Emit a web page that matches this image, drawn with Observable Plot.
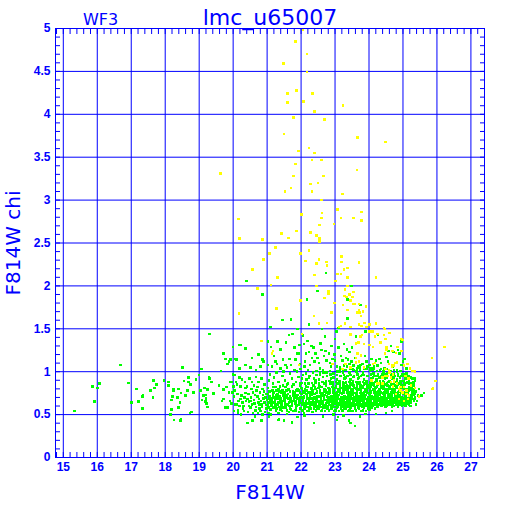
<!DOCTYPE html>
<html><head><meta charset="utf-8">
<script src="https://cdn.jsdelivr.net/npm/d3@7"></script>
<script src="https://cdn.jsdelivr.net/npm/@observablehq/plot@0.6"></script>
<style>body{margin:0;background:#fff}</style>
</head><body><div id="chart"></div>
<script>
const title = "lmc_u65007";
const chip = "WF3";
const xLabel = "F814W";
const yLabel = "F814W chi";
const xTicks = [15,16,17,18,19,20,21,22,23,24,25,26,27];
const yTicks = [0,0.5,1,1.5,2,2.5,3,3.5,4,4.5,5];
const xMinor = d3.range(14.8, 27.41, 0.2);
const yMinor = d3.range(0, 5.001, 0.1);

// green points (good fits)
const green = [
[15.33,.54],[15.86,.83],[15.92,.65],[16.01,.81],[16.07,.86],[16.69,1.08],[16.92,.87],[17.01,.64],[17.15,.80],[17.21,.65],[17.33,.71],[17.35,.72],[17.33,.57],[17.57,.78],[17.66,.90],[17.69,.81],[17.74,.85],[17.64,.70],[17.97,.90],[18.10,.88],[18.10,.84],[18.24,.80],[18.24,.78],[18.39,.80],[18.21,.71],[18.36,.70],[18.18,.67],[18.44,.64],[18.39,.58],[18.18,.56],[18.16,.50],[18.26,.44],[18.47,.45],[18.45,.43],[18.51,1.05],[18.55,.89],[18.69,.93],[18.69,.88],[18.75,.85],[18.60,.72],[18.46,.75],[18.83,.76],[18.66,.78],[18.73,.52],[18.77,.53],[18.90,.91],[19.00,.96],[19.07,1.03],[19.30,.92],[19.36,.88],[19.04,.78],[19.16,.81],[19.24,.79],[19.13,.72],[19.19,.73],[19.09,.67],[19.19,.65],[19.21,.63],[19.24,.59],[19.42,.74],[19.30,1.44],
[19.72,1.21],[19.78,1.15],[19.88,1.12],[19.92,1.14],[19.83,1.09],[19.65,1.01],[19.29,.93],[19.40,.75],[19.58,.84],[19.71,.79],[19.80,.82],[19.90,.88],[20.00,.97],[20.06,.96],[19.98,.76],[20.01,.83],[19.67,.66],[19.72,.68],[19.84,.58],[19.95,.63],[20.02,.54],[20.18,.60],[20.14,.55],[20.22,.68],[19.20,.69],[19.44,.75],[19.78,.58],[19.88,.76],[19.95,.88],[19.90,.66],
[20.03,.71],[20.06,.62],[20.08,.88],[20.04,.78],
[20.13,.74],[20.16,.66],[20.11,.85],[20.18,.93],[20.15,.52],[20.12,.62],
[20.24,.72],[20.27,.64],[20.21,.83],[20.29,.57],[20.26,.91],[20.23,.50],
[20.33,.70],[20.36,.81],[20.31,.60],[20.38,.66],[20.35,.88],[20.32,.54],[20.37,.75],
[20.42,.68],[20.45,.74],[20.47,.60],[20.41,.83],[20.48,.92],[20.44,.53],[20.46,.65],
[20.52,.70],[20.55,.62],[20.58,.76],[20.51,.58],[20.56,.88],[20.53,.66],[20.59,.52],[20.54,.80],
[20.62,.67],[20.65,.73],[20.68,.59],[20.61,.84],[20.66,.55],[20.69,.78],[20.63,.63],[20.67,.94],[20.64,.48],
[20.72,.71],[20.75,.64],[20.78,.57],[20.71,.82],[20.76,.68],[20.73,.52],[20.79,.76],[20.74,.88],[20.77,.61],
[20.82,.66],[20.85,.59],[20.88,.73],[20.81,.54],[20.86,.80],[20.83,.62],[20.89,.69],[20.84,.92],[20.87,.50],
[20.92,.64],[20.95,.70],[20.98,.57],[20.91,.77],[20.96,.61],[20.93,.85],[20.99,.67],[20.94,.53],[20.97,.74],
[21.02,.62],[21.05,.68],[21.08,.56],[21.01,.74],[21.06,.59],[21.03,.81],[21.09,.65],[21.04,.52],[21.07,.71],[21.05,.90],
[21.12,.60],[21.15,.66],[21.18,.72],[21.11,.56],[21.16,.78],[21.13,.63],[21.19,.58],[21.14,.69],[21.17,.86],[21.12,.50],
[21.22,.64],[21.25,.58],[21.28,.70],[21.21,.76],[21.26,.55],[21.23,.67],[21.29,.61],[21.24,.82],[21.27,.73],[21.21,.93],
[21.32,.62],[21.35,.68],[21.38,.56],[21.31,.74],[21.36,.59],[21.33,.80],[21.39,.65],[21.34,.52],[21.37,.71],[21.33,.88],
[21.42,.60],[21.45,.66],[21.48,.72],[21.41,.57],[21.46,.78],[21.43,.63],[21.49,.69],[21.44,.54],[21.47,.84],[21.42,.75],[21.46,.95],
[21.52,.64],[21.55,.58],[21.58,.70],[21.51,.76],[21.56,.61],[21.53,.67],[21.59,.55],[21.54,.82],[21.57,.73],[21.52,.90],[21.58,.51],
[21.62,.62],[21.65,.68],[21.68,.57],[21.61,.74],[21.66,.60],[21.63,.79],[21.69,.65],[21.64,.53],[21.67,.71],[21.62,.86],
[21.72,.60],[21.75,.66],[21.78,.72],[21.71,.56],[21.76,.77],[21.73,.63],[21.79,.69],[21.74,.83],[21.77,.54],[21.73,.92],
[21.82,.63],[21.85,.58],[21.88,.69],[21.81,.75],[21.86,.61],[21.83,.66],[21.89,.80],[21.84,.55],[21.87,.72],[21.85,.88],
[21.92,.61],[21.95,.67],[21.98,.57],[21.91,.73],[21.96,.64],[21.93,.78],[21.99,.70],[21.94,.53],[21.97,.84],[21.92,.94],
[22.02,.62],[22.05,.68],[22.08,.58],[22.01,.74],[22.06,.65],[22.03,.80],[22.09,.71],[22.04,.55],[22.07,.77],[22.02,.87],[22.08,.52],
[22.12,.60],[22.15,.66],[22.18,.72],[22.11,.57],[22.16,.78],[22.13,.63],[22.19,.69],[22.14,.83],[22.17,.54],[22.12,.75],[22.16,.91],
[22.22,.63],[22.25,.58],[22.28,.69],[22.21,.75],[22.26,.61],[22.23,.66],[22.29,.80],[22.24,.55],[22.27,.72],[22.22,.86],[22.28,.64],
[22.32,.61],[22.35,.67],[22.38,.57],[22.31,.73],[22.36,.64],[22.33,.78],[22.39,.70],[22.34,.53],[22.37,.84],[22.33,.76],[22.38,.92],
[22.42,.62],[22.45,.68],[22.48,.58],[22.41,.74],[22.46,.65],[22.43,.80],[22.49,.71],[22.44,.55],[22.47,.77],[22.42,.87],[22.48,.60],
[22.52,.60],[22.55,.66],[22.58,.72],[22.51,.57],[22.56,.78],[22.53,.63],[22.59,.69],[22.54,.83],[22.57,.75],[22.52,.91],[22.58,.54],[22.55,.62],
[22.62,.63],[22.65,.58],[22.68,.69],[22.61,.75],[22.66,.61],[22.63,.66],[22.69,.80],[22.64,.72],[22.67,.86],[22.62,.55],[22.68,.77],[22.65,.94],
[22.72,.61],[22.75,.67],[22.78,.57],[22.71,.73],[22.76,.64],[22.73,.78],[22.79,.70],[22.74,.84],[22.77,.60],[22.73,.89],[22.78,.75],[22.71,.54],
[22.82,.62],[22.85,.68],[22.88,.58],[22.81,.74],[22.86,.65],[22.83,.80],[22.89,.71],[22.84,.77],[22.87,.86],[22.82,.55],[22.88,.92],[22.85,.61],
[22.92,.60],[22.95,.66],[22.98,.72],[22.91,.57],[22.96,.78],[22.93,.63],[22.99,.69],[22.94,.83],[22.97,.75],[22.92,.88],[22.98,.54],[22.95,.80],
[23.02,.63],[23.05,.58],[23.08,.69],[23.01,.75],[23.06,.61],[23.03,.66],[23.09,.80],[23.04,.72],[23.07,.86],[23.02,.55],[23.08,.77],[23.05,.91],[23.03,.83],
[23.12,.61],[23.15,.67],[23.18,.57],[23.11,.73],[23.16,.64],[23.13,.78],[23.19,.70],[23.14,.84],[23.17,.60],[23.13,.89],[23.18,.75],[23.11,.54],[23.16,.81],
[23.22,.62],[23.25,.68],[23.28,.58],[23.21,.74],[23.26,.65],[23.23,.80],[23.29,.71],[23.24,.77],[23.27,.86],[23.22,.55],[23.28,.92],[23.25,.83],[23.21,.67],
[23.32,.60],[23.35,.66],[23.38,.72],[23.31,.57],[23.36,.78],[23.33,.63],[23.39,.69],[23.34,.83],[23.37,.75],[23.32,.88],[23.38,.54],[23.35,.80],[23.31,.93],[23.36,.70],
[23.42,.63],[23.45,.58],[23.48,.69],[23.41,.75],[23.46,.61],[23.43,.66],[23.49,.80],[23.44,.72],[23.47,.86],[23.42,.55],[23.48,.77],[23.45,.91],[23.43,.83],[23.46,.74],
[23.52,.61],[23.55,.67],[23.58,.57],[23.51,.73],[23.56,.64],[23.53,.78],[23.59,.70],[23.54,.84],[23.57,.60],[23.53,.89],[23.58,.75],[23.51,.54],[23.56,.81],[23.54,.94],[23.59,.66],
[23.62,.62],[23.65,.68],[23.68,.58],[23.61,.74],[23.66,.65],[23.63,.80],[23.69,.71],[23.64,.77],[23.67,.86],[23.62,.55],[23.68,.92],[23.65,.83],[23.61,.67],[23.66,.97],[23.63,.72],
[23.72,.60],[23.75,.66],[23.78,.72],[23.71,.57],[23.76,.78],[23.73,.63],[23.79,.69],[23.74,.83],[23.77,.75],[23.72,.88],[23.78,.54],[23.75,.80],[23.71,.93],[23.76,.70],[23.73,.48],
[23.82,.63],[23.85,.58],[23.88,.69],[23.81,.75],[23.86,.61],[23.83,.66],[23.89,.80],[23.84,.72],[23.87,.86],[23.82,.55],[23.88,.77],[23.85,.91],[23.83,.83],[23.86,.74],[23.81,.96],
[23.92,.61],[23.95,.67],[23.98,.57],[23.91,.73],[23.96,.64],[23.93,.78],[23.99,.70],[23.94,.84],[23.97,.60],[23.93,.89],[23.98,.75],[23.91,.54],[23.96,.81],[23.94,.95],[23.99,.66],
[24.02,.62],[24.05,.68],[24.08,.58],[24.01,.74],[24.06,.65],[24.03,.80],[24.09,.71],[24.04,.77],[24.07,.86],[24.02,.56],[24.08,.92],[24.05,.83],[24.01,.67],[24.06,.97],[24.03,.72],
[24.12,.60],[24.15,.66],[24.18,.72],[24.11,.63],[24.16,.78],[24.13,.69],[24.19,.82],[24.14,.75],[24.17,.88],[24.12,.93],[24.18,.57],[24.15,.80],[24.11,.85],[24.16,.70],[24.13,.98],
[24.22,.63],[24.25,.59],[24.28,.69],[24.21,.75],[24.26,.61],[24.23,.66],[24.29,.80],[24.24,.72],[24.27,.86],[24.22,.91],[24.28,.77],[24.25,.95],[24.23,.83],[24.26,.74],[24.21,.68],
[24.32,.61],[24.35,.67],[24.38,.64],[24.31,.73],[24.36,.70],[24.33,.78],[24.39,.84],[24.34,.76],[24.37,.60],[24.33,.89],[24.38,.75],[24.31,.93],[24.36,.81],[24.34,.66],[24.39,.97],
[24.42,.62],[24.45,.68],[24.48,.65],[24.41,.74],[24.46,.71],[24.43,.80],[24.49,.77],[24.44,.86],[24.47,.92],[24.42,.83],[24.48,.59],[24.45,.95],[24.41,.89],[24.46,.74],[24.43,.67],
[24.52,.60],[24.55,.66],[24.58,.72],[24.51,.63],[24.56,.78],[24.53,.69],[24.59,.82],[24.54,.75],[24.57,.88],[24.52,.93],[24.58,.64],[24.55,.80],[24.51,.85],[24.56,.70],[24.53,.98],
[24.62,.62],[24.65,.68],[24.68,.65],[24.61,.74],[24.66,.71],[24.63,.80],[24.69,.77],[24.64,.86],[24.67,.92],[24.62,.83],[24.68,.59],[24.65,.96],[24.61,.89],[24.66,.74],[24.63,.67],
[24.72,.60],[24.75,.66],[24.78,.72],[24.71,.63],[24.76,.78],[24.73,.69],[24.79,.82],[24.74,.75],[24.77,.88],[24.72,.93],[24.78,.64],[24.75,.80],[24.71,.85],[24.76,.70],[24.73,.98],
[24.82,.63],[24.85,.59],[24.88,.69],[24.81,.75],[24.86,.61],[24.83,.66],[24.89,.80],[24.84,.72],[24.87,.86],[24.82,.91],[24.88,.77],[24.85,.95],[24.83,.83],[24.86,.74],[24.81,.68],
[24.92,.61],[24.95,.67],[24.98,.64],[24.91,.73],[24.96,.70],[24.93,.78],[24.99,.84],[24.94,.76],[24.97,.60],[24.93,.89],[24.98,.75],[24.91,.93],[24.96,.81],[24.94,.66],[24.99,.97],
[25.02,.62],[25.05,.68],[25.08,.65],[25.01,.74],[25.06,.71],[25.03,.80],[25.09,.77],[25.04,.86],[25.07,.92],[25.02,.83],[25.08,.60],[25.05,.95],[25.01,.89],[25.06,.74],[25.03,.67],
[25.12,.63],[25.15,.69],[25.18,.72],[25.11,.66],[25.16,.78],[25.13,.75],[25.19,.82],[25.14,.88],[25.17,.61],[25.12,.93],[25.18,.86],[25.15,.80],[25.11,.98],
[25.22,.64],[25.25,.70],[25.28,.76],[25.21,.67],[25.26,.82],[25.23,.73],[25.29,.88],[25.24,.79],[25.27,.92],[25.22,.60],[25.26,.85],
[25.32,.66],[25.35,.74],[25.31,.80],[25.36,.70],[25.33,.86],[25.38,.62],[25.34,.92],
[25.44,.72],[25.47,.80],[25.55,.72],[25.42,.66],[25.62,.75],
[20.42,.40],[20.57,.43],[20.83,.43],[21.05,.48],[21.35,.45],[21.50,.43],[21.74,.41],[21.33,.44],[22.38,.40],[23.05,.44],[23.09,.47],[23.41,.43],[23.46,.40],[23.59,.37],[23.90,.51],[24.20,.51],[22.65,.48],[22.95,.50],[23.25,.49],[24.50,.52],[24.68,.54],[22.10,.49],[21.90,.47],
[20.21,1.31],[20.36,1.27],[20.00,1.29],[20.19,1.31],[20.05,1.15],[20.10,1.14],[20.36,1.08],[20.51,1.05],[20.67,1.02],[20.19,1.04],[20.86,1.14],[20.90,1.12],[21.03,1.08],[21.15,1.06],[21.29,1.09],[21.47,1.14],[21.66,1.15],[21.83,1.14],[21.89,1.21],[21.54,1.08],[21.10,1.52],[21.46,1.60],[21.71,1.61],[21.90,1.50],[21.75,1.44],[21.64,1.43],[21.03,1.35],[21.30,1.35],[21.96,1.31],[21.40,1.26],[21.12,1.29],[20.81,1.06],[21.59,1.05],[21.98,1.03],[21.80,1.02],[21.40,1.04],
[22.23,1.55],[22.06,1.42],[22.19,1.36],[22.70,1.41],[23.10,1.51],[23.04,1.47],[23.61,1.41],[23.90,1.47],[24.27,1.43],[22.08,1.32],[22.37,1.28],[22.57,1.33],[23.26,1.32],[23.35,1.26],[23.42,1.23],[23.10,1.28],[22.82,1.21],[22.43,1.21],[22.23,1.23],[22.15,1.21],[21.94,1.21],[22.48,1.16],[22.68,1.18],[22.75,1.13],[22.92,1.15],[23.00,1.13],[23.22,1.13],[23.32,1.16],[23.42,1.09],[23.61,1.10],[23.81,1.09],[24.02,1.08],[24.21,1.13],[24.36,1.10],[24.51,1.17],[21.97,1.09],[22.10,1.06],[22.27,1.08],[22.55,1.04],[22.88,1.06],[23.15,1.03],[23.55,1.02],[23.72,1.05],[24.10,1.02],[24.45,1.04],[24.70,1.06],[24.95,1.08],[25.10,1.04],[23.36,1.62],[22.62,1.50],[24.64,1.30],[24.85,1.25],[25.05,1.15],
[23.05,1.06],[23.27,1.07],[23.48,1.12],[23.68,1.06],[23.92,1.12],[24.15,1.06],[24.31,1.15],[24.56,1.12],[24.82,1.02],[25.00,1.12],[22.85,1.10],[22.40,1.12],[22.20,1.02],[21.70,1.08],[21.25,1.12],
[22.73,2.15],[20.40,2.06],[23.48,2.00],[22.48,1.94],[20.87,1.90],[22.18,1.84],[23.36,1.84],[23.75,1.78],[24.96,1.35],[24.58,1.24],[24.72,1.23],[24.90,1.21]
];

// further green points in the crowded core of the cluster
const greenCore = [
[21.04,.64],[21.07,.77],[21.02,.58],[21.08,.70],[21.14,.62],[21.17,.75],[21.11,.68],[21.18,.82],[21.24,.62],[21.27,.78],[21.21,.70],[21.28,.57],[21.34,.64],[21.37,.77],[21.31,.69],[21.38,.83],[21.44,.62],[21.47,.76],[21.41,.69],[21.48,.58],[21.54,.62],[21.57,.78],[21.51,.70],[21.58,.85],[21.64,.64],[21.67,.77],[21.61,.69],[21.68,.58],[21.74,.62],[21.77,.76],[21.71,.69],[21.78,.85],[21.84,.64],[21.87,.78],[21.81,.70],[21.88,.60],[21.94,.62],[21.97,.76],[21.91,.69],[21.98,.86],
[22.04,.63],[22.07,.70],[22.01,.81],[22.09,.60],[22.05,.75],[22.03,.92],
[22.14,.62],[22.17,.69],[22.11,.80],[22.19,.59],[22.15,.74],[22.12,.86],
[22.24,.64],[22.27,.71],[22.21,.82],[22.29,.57],[22.25,.76],[22.23,.93],
[22.34,.62],[22.37,.69],[22.31,.81],[22.39,.59],[22.35,.74],[22.32,.87],
[22.44,.63],[22.47,.70],[22.41,.82],[22.49,.57],[22.45,.75],[22.43,.90],[22.46,.96],
[22.54,.65],[22.57,.71],[22.51,.81],[22.59,.59],[22.55,.76],[22.53,.86],[22.56,.97],
[22.64,.64],[22.67,.70],[22.61,.82],[22.69,.58],[22.65,.75],[22.63,.88],[22.66,.99],
[22.74,.63],[22.77,.71],[22.71,.80],[22.79,.59],[22.75,.76],[22.73,.86],[22.76,.95],[22.72,.67],
[22.84,.65],[22.87,.70],[22.81,.81],[22.89,.57],[22.85,.75],[22.83,.89],[22.86,.97],[22.82,.68],
[22.94,.64],[22.97,.71],[22.91,.82],[22.99,.59],[22.95,.76],[22.93,.86],[22.96,.93],[22.92,.68],
[23.04,.65],[23.07,.71],[23.01,.81],[23.09,.59],[23.05,.76],[23.03,.88],[23.06,.96],[23.02,.69],[23.08,.63],
[23.14,.64],[23.17,.70],[23.11,.79],[23.19,.59],[23.15,.75],[23.13,.87],[23.16,.95],[23.12,.68],[23.18,.62],[23.15,.83],[23.13,1.00],
[23.24,.65],[23.27,.71],[23.21,.81],[23.29,.60],[23.25,.76],[23.23,.88],[23.26,.96],[23.22,.69],[23.28,.63],[23.25,.85],[23.23,.99],
[23.34,.64],[23.37,.70],[23.31,.79],[23.39,.59],[23.35,.75],[23.33,.87],[23.36,.95],[23.32,.68],[23.38,.62],[23.35,.84],[23.33,1.02],
[23.44,.65],[23.47,.71],[23.41,.81],[23.49,.60],[23.45,.76],[23.43,.88],[23.46,.96],[23.42,.69],[23.48,.63],[23.45,.85],[23.43,.99],
[23.54,.64],[23.57,.70],[23.51,.79],[23.59,.59],[23.55,.75],[23.53,.87],[23.56,.95],[23.52,.68],[23.58,.62],[23.55,.84],[23.53,1.03],
[23.64,.65],[23.67,.71],[23.61,.81],[23.69,.60],[23.65,.76],[23.63,.88],[23.66,.96],[23.62,.69],[23.68,.63],[23.65,.85],[23.63,1.00],
[23.74,.64],[23.77,.70],[23.71,.79],[23.79,.59],[23.75,.75],[23.73,.87],[23.76,.95],[23.72,.68],[23.78,.62],[23.75,.84],[23.73,1.02],
[23.84,.65],[23.87,.71],[23.81,.81],[23.89,.60],[23.85,.76],[23.83,.88],[23.86,.96],[23.82,.69],[23.88,.63],[23.85,.85],[23.83,.99],
[23.94,.64],[23.97,.70],[23.91,.79],[23.99,.59],[23.95,.75],[23.93,.87],[23.96,.95],[23.92,.68],[23.98,.62],[23.95,.84],[23.93,1.03],
[24.04,.65],[24.07,.71],[24.01,.81],[24.09,.60],[24.05,.76],[24.03,.88],[24.06,.96],[24.02,.69],[24.08,.63],[24.05,.85],[24.03,1.01],
[24.14,.64],[24.17,.70],[24.11,.79],[24.19,.62],[24.15,.75],[24.13,.87],[24.16,.95],[24.12,.68],[24.18,.66],[24.15,.84],[24.13,1.04],
[24.24,.65],[24.27,.71],[24.21,.81],[24.29,.62],[24.25,.76],[24.23,.88],[24.26,.97],[24.22,.69],[24.28,.66],[24.25,.85],[24.23,1.01],
[24.34,.64],[24.37,.70],[24.31,.79],[24.39,.62],[24.35,.75],[24.33,.87],[24.36,.95],[24.32,.68],[24.38,.66],[24.35,.84],[24.33,1.02],
[24.44,.65],[24.47,.71],[24.41,.81],[24.49,.62],[24.45,.76],[24.43,.88],[24.46,.97],[24.42,.69],[24.48,.66],[24.45,.85],[24.43,1.00],
[24.54,.64],[24.57,.70],[24.51,.79],[24.59,.62],[24.55,.75],[24.53,.87],[24.56,.95],[24.52,.68],[24.58,.66],[24.55,.84],[24.53,1.03],
[24.64,.65],[24.67,.71],[24.61,.81],[24.69,.62],[24.65,.76],[24.63,.88],[24.66,.97],[24.62,.69],[24.68,.66],[24.65,.85],[24.63,1.01],
[24.74,.64],[24.77,.70],[24.71,.79],[24.79,.62],[24.75,.75],[24.73,.87],[24.76,.95],[24.72,.68],[24.78,.66],[24.75,.84],[24.73,1.02],
[24.84,.65],[24.87,.71],[24.81,.81],[24.89,.63],[24.85,.76],[24.83,.88],[24.86,.97],[24.82,.69],[24.88,.66],[24.85,.85],[24.83,1.00],
[24.94,.64],[24.97,.70],[24.91,.79],[24.99,.63],[24.95,.75],[24.93,.87],[24.96,.95],[24.92,.68],[24.98,.66],[24.95,.84],[24.93,1.01],
[25.04,.65],[25.07,.71],[25.01,.81],[25.09,.63],[25.05,.76],[25.03,.88],[25.06,.97],[25.02,.69],[25.08,.66],[25.05,.85],
[25.14,.64],[25.17,.70],[25.11,.79],[25.19,.65],[25.15,.75],[25.13,.87],[25.16,.95],[25.12,.68],[25.18,.90],
[25.24,.66],[25.27,.72],[25.21,.81],[25.29,.78],[25.25,.86],[25.23,.93],[25.26,.69],
[25.34,.68],[25.37,.77],[25.31,.84],[25.33,.73],[25.36,.89]
];

// green points along the upper edge of the cluster
const greenUpper = [
[22.05,.96],[22.15,.98],[22.25,.95],[22.35,.99],[22.45,1.01],[22.55,.99],[22.65,1.02],[22.75,.99],[22.85,1.01],[22.95,.98],[23.05,1.00],[23.15,1.05],[23.25,1.02],[23.35,1.06],[23.45,1.03],[23.55,1.07],[23.65,1.04],[23.75,1.08],[23.85,1.03],[23.95,1.06],[24.05,1.04],[24.25,1.07],[24.35,1.03],
[22.12,1.12],[22.32,1.16],[22.52,1.10],[22.72,1.24],[22.98,1.20],[23.18,1.18],[23.38,1.14],[23.58,1.16],[23.88,1.18],[24.08,1.15],[21.88,1.00],[21.68,.98],[21.48,1.00],[21.28,.99],[21.08,.97],[22.30,1.30],[22.90,1.30],[23.50,1.28],[22.60,1.25],[23.00,1.38],[21.80,1.28],[21.55,1.34],[21.20,1.18],[20.75,1.20],[20.55,1.16]
];

// yellow points (poor fits)
const yellow = [
[22.06,4.98],[21.84,4.85],[22.18,4.70],[21.48,4.59],[22.18,4.49],[21.87,4.28],[21.60,4.24],[22.34,4.24],[22.07,4.15],[21.60,4.14],[23.23,4.10],[22.40,4.03],[21.77,3.96],[22.69,3.94],[23.66,3.73],[24.48,3.68],[21.50,3.77],[21.93,3.57],[22.24,3.61],[22.40,3.55],[22.32,3.47],[22.60,3.47],[21.83,3.42],[19.63,3.31],[23.64,3.35],[21.77,3.28],[22.66,3.28],[22.28,3.19],[22.50,3.20],[21.71,3.14],[21.52,3.10],[22.32,3.10],[23.22,3.07],[22.60,3.00],[23.07,2.89],[22.62,2.85],[23.78,2.86],[22.01,2.83],[22.60,2.79],[23.17,2.79],[23.54,2.79],[23.78,2.76],[20.16,2.78],[22.97,2.72],[22.54,2.71],[21.87,2.64],[22.28,2.62],[21.42,2.61],[22.46,2.59],[21.63,2.56],[22.54,2.55],[20.18,2.55],[20.87,2.54],[22.54,2.52],[21.24,2.45],[22.24,2.41],[21.99,2.38],[21.07,2.38],[23.19,2.34],[22.52,2.31],[20.89,2.31],[22.13,2.29],[22.75,2.28],[23.19,2.28],[23.70,2.27],[22.46,2.26],[22.77,2.24],[23.36,2.21],[20.57,2.19],[23.26,2.19],[23.17,2.14],[23.07,2.14],[22.40,2.13],[21.30,2.10],[23.36,2.10],[24.20,2.10],[23.01,2.06],[21.12,2.01],[22.46,2.00],[23.36,2.00],[20.71,1.97],[23.30,1.96],[22.81,1.94],[23.54,1.93],[22.81,1.91],[23.42,1.90],[23.28,1.88],[23.34,1.87],[23.52,1.87],[22.69,1.86],[21.99,1.83],[23.46,1.83],[22.99,1.80],[23.24,1.78],[23.58,1.79],[23.70,1.79],[23.91,1.76],[21.28,1.73],[23.36,1.72],[23.70,1.72],
[20.17,1.68],[21.28,1.74],[20.83,1.36],[21.18,1.24],[21.15,1.21],[21.94,1.08],[22.38,1.65],[22.90,1.69],[23.73,1.69],[23.76,1.65],[22.53,1.56],[22.77,1.57],[23.12,1.52],[23.17,1.53],[23.29,1.56],[23.46,1.52],[23.70,1.55],[23.78,1.53],[24.02,1.55],[24.20,1.56],[23.93,1.52],[23.46,1.43],[23.75,1.41],[23.80,1.43],[24.10,1.47],[24.18,1.41],[24.25,1.44],[24.47,1.50],[24.44,1.43],[22.02,1.44],[23.61,1.33],[23.69,1.34],[23.85,1.32],[24.02,1.31],[24.12,1.29],[24.34,1.34],[24.51,1.25],[24.69,1.24],[24.47,1.21],[23.66,1.21],[23.77,1.19],[24.12,1.09],[24.18,1.10],[24.49,1.03],[24.59,1.02],[24.67,1.06],[24.74,1.07],[24.39,.93],[24.47,.95],[24.61,.99],[24.71,.97],[24.08,.90],[24.28,.86],[24.64,.88],[24.71,.83],[23.46,1.05],[23.61,1.11],[23.31,1.09],[23.22,1.03],[22.92,1.09],
[24.61,1.45],[24.86,1.29],[24.98,1.37],[24.51,1.28],[24.79,1.22],[24.96,1.24],[24.59,1.09],[24.67,1.07],[24.76,1.10],[24.83,1.11],[25.03,1.07],[25.13,1.09],[25.20,1.04],[25.28,1.01],[25.35,1.00],[24.54,.95],[24.64,.93],[24.73,.90],[24.83,.86],[24.93,.82],[25.08,.95],[25.16,.92],[25.23,.84],[25.10,.78],[25.18,.72],[24.98,.76],[24.88,.68],[25.03,.66],[24.79,.74],[25.35,.81],[25.47,.71],[26.22,1.29],[25.85,1.16],[25.96,.89],[25.87,.80],[25.88,.81],[24.88,.80],[24.93,.78],[25.03,.82],[25.11,.74],[25.15,.68],[24.74,.88],[24.39,.86],[24.25,.86],[24.44,1.51],[24.60,1.45],[24.48,1.38],[24.52,1.28],[24.83,1.29],[24.95,1.38],[23.53,1.79],[23.66,1.69],[23.82,1.70],[23.46,1.44],[23.87,1.57],[24.01,1.47],[23.61,1.16],[23.71,1.12],[23.85,1.05]
];

const blue = "#0000ff";
const font = "Liberation Sans, Arial, sans-serif";
const dotOpts = {x: d => d[0], y: d => d[1], symbol: "square", r: 1.4, stroke: null, shapeRendering: "crispEdges"};
const plot = Plot.plot({
  width: 512, height: 512,
  marginLeft: 55, marginRight: 28, marginTop: 28, marginBottom: 55,
  x: {domain: [14.77, 27.40]},
  y: {domain: [0, 5]},
  style: {fontFamily: font, color: blue, background: "white", overflow: "visible"},
  marks: [
    Plot.gridX(xTicks, {stroke: blue, strokeOpacity: 1, strokeWidth: 1}),
    Plot.gridY(yTicks.slice(1, -1), {stroke: blue, strokeOpacity: 1, strokeWidth: 1}),
    Plot.dot(green, {...dotOpts, fill: "#00ff00"}),
    Plot.dot(greenCore, {...dotOpts, fill: "#00ff00"}),
    Plot.dot(greenUpper, {...dotOpts, fill: "#00ff00"}),
    Plot.dot(yellow, {...dotOpts, fill: "#ffff00"}),
    Plot.frame({stroke: blue, strokeWidth: 1}),
    Plot.axisX(xMinor, {anchor: "bottom", tickSize: -5, fill: "none", label: null, stroke: blue}),
    Plot.axisX(xMinor, {anchor: "top", tickSize: -5, fill: "none", label: null, stroke: blue}),
    Plot.axisY(yMinor, {anchor: "left", tickSize: -5, fill: "none", label: null, stroke: blue}),
    Plot.axisY(yMinor, {anchor: "right", tickSize: -5, fill: "none", label: null, stroke: blue}),
    Plot.axisX(xTicks, {anchor: "bottom", tickSize: 0, tickPadding: 5, label: null, fill: blue, fontSize: 12, fontWeight: "bold", tickFormat: d => String(d)}),
    Plot.axisY(yTicks, {anchor: "left", tickSize: 0, tickPadding: 5, label: null, fill: blue, fontSize: 12, fontWeight: "bold", tickFormat: d => String(d)}),
    Plot.text([title], {frameAnchor: "top", lineAnchor: "bottom", textAnchor: "middle", dy: -4, fontSize: 22, fill: blue, fontFamily: "DejaVu Sans", text: d => d}),
    Plot.text([chip], {frameAnchor: "top-left", lineAnchor: "bottom", textAnchor: "middle", dx: 45, dy: -4, fontSize: 16, fill: blue, fontFamily: "DejaVu Sans", text: d => d}),
    Plot.text([xLabel], {frameAnchor: "bottom", lineAnchor: "bottom", textAnchor: "middle", dy: 41, fontSize: 20, fill: blue, fontFamily: "DejaVu Sans", text: d => d}),
    Plot.text([yLabel], {frameAnchor: "left", lineAnchor: "bottom", textAnchor: "middle", dx: -36, rotate: -90, fontSize: 20, fill: blue, fontFamily: "DejaVu Sans", text: d => d})
  ]
});
document.getElementById("chart").appendChild(plot);
</script>
</body></html>
